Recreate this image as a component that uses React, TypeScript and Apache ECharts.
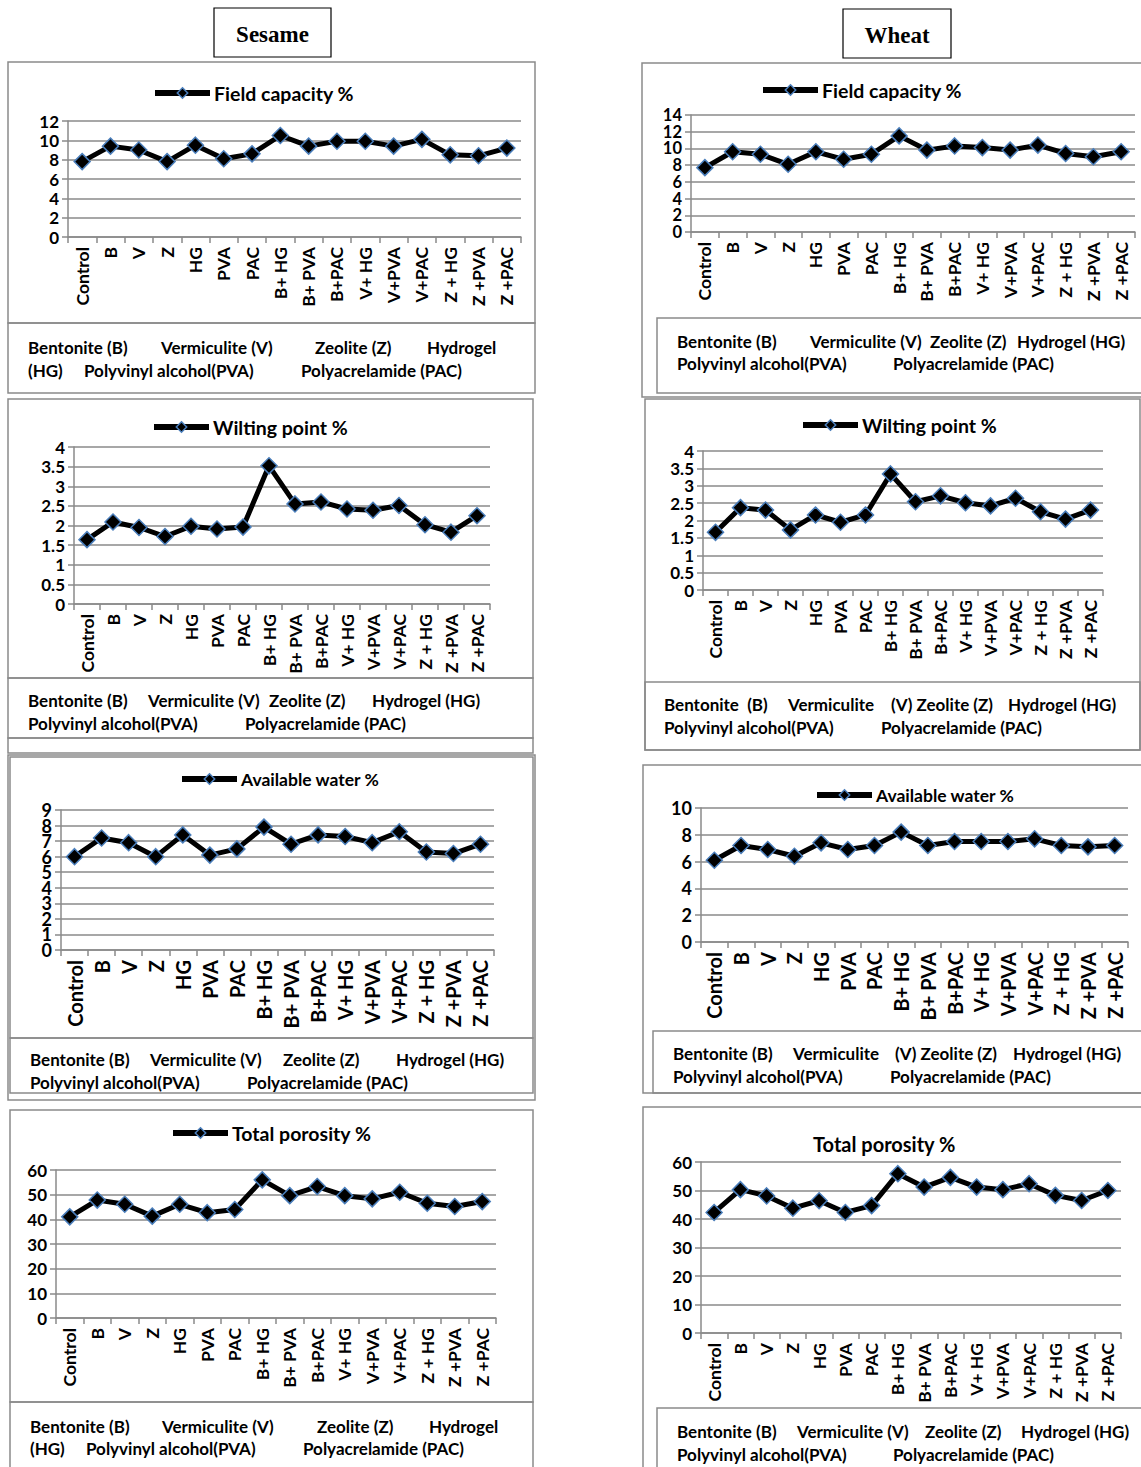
import React, { useEffect, useRef } from 'react';
import * as echarts from 'echarts';

// ---------------- data ----------------
const categories = ['Control', 'B', 'V', 'Z', 'HG', 'PVA', 'PAC', 'B+ HG', 'B+ PVA', 'B+PAC', 'V+ HG', 'V+PVA', 'V+PAC', 'Z + HG', 'Z +PVA', 'Z +PAC'];

const sesameFieldCapacity = [7.8, 9.4, 9.0, 7.8, 9.5, 8.1, 8.6, 10.5, 9.4, 9.9, 9.9, 9.4, 10.1, 8.5, 8.4, 9.2];
const sesameWiltingPoint = [1.64, 2.09, 1.95, 1.72, 1.98, 1.91, 1.96, 3.52, 2.55, 2.6, 2.42, 2.39, 2.51, 2.02, 1.83, 2.25];
const sesameAvailableWater = [6.0, 7.2, 6.9, 6.0, 7.4, 6.1, 6.5, 7.9, 6.8, 7.4, 7.3, 6.9, 7.6, 6.3, 6.2, 6.8];
const sesameTotalPorosity = [41.0, 47.8, 46.1, 41.3, 46.1, 42.7, 44.0, 56.0, 49.6, 53.3, 49.6, 48.3, 51.0, 46.5, 45.2, 47.2];

const wheatFieldCapacity = [7.7, 9.6, 9.3, 8.1, 9.6, 8.7, 9.3, 11.5, 9.8, 10.3, 10.1, 9.8, 10.4, 9.4, 9.0, 9.6];
const wheatWiltingPoint = [1.66, 2.37, 2.3, 1.73, 2.16, 1.95, 2.16, 3.34, 2.54, 2.71, 2.51, 2.42, 2.64, 2.25, 2.04, 2.3];
const wheatAvailableWater = [6.1, 7.2, 6.9, 6.4, 7.4, 6.9, 7.2, 8.2, 7.2, 7.5, 7.5, 7.5, 7.7, 7.2, 7.1, 7.2];
const wheatTotalPorosity = [42.3, 50.3, 48.1, 43.8, 46.4, 42.3, 44.7, 55.9, 51.2, 54.6, 51.2, 50.3, 52.4, 48.3, 46.5, 50.0];

const cropNames = ['Sesame', 'Wheat'];

// ---------------- layout / style ----------------
const FONT = 'Lato, "Liberation Sans", sans-serif';
const GRAY = '#8a8a8a';
const BLUE = '#4a7ebb';

type Note = [string, number, number];
type Panel = {
  name: string;
  values: number[];
  grid: [number, number, number, number];
  max: number;
  interval: number;
  yFont: number;
  denseY?: boolean;
  xFont: number;
  head: [number, number, number];
  icon: boolean;
  boxes: [number, number, number, number][];
  notes: Note[];
};

const panels: Panel[] = [
  {
    name: 'Field capacity %', values: sesameFieldCapacity, grid: [68, 121, 453, 116], max: 12, interval: 2,
    yFont: 17, xFont: 17.5, head: [152, 93, 19.5], icon: true,
    boxes: [[8, 62, 527, 261], [8, 323, 527, 70]],
    notes: [['Bentonite (B)', 28, 347], ['Vermiculite (V)', 161, 347], ['Zeolite (Z)', 315, 347], ['Hydrogel', 427, 347],
      ['(HG)', 28, 370], ['Polyvinyl alcohol(PVA)', 84, 370], ['Polyacrelamide (PAC)', 301, 370]],
  },
  {
    name: 'Wilting point %', values: sesameWiltingPoint, grid: [74, 447, 416, 157], max: 4, interval: 0.5,
    yFont: 17, xFont: 17.5, head: [151, 427, 19.5], icon: true,
    boxes: [[8, 399, 525, 279], [8, 678, 525, 60], [8, 738, 525, 15]],
    notes: [['Bentonite (B)', 28, 700], ['Vermiculite (V)', 148, 700], ['Zeolite (Z)', 269, 700], ['Hydrogel (HG)', 372, 700],
      ['Polyvinyl alcohol(PVA)', 28, 723], ['Polyacrelamide (PAC)', 245, 723]],
  },
  {
    name: 'Available water %', values: sesameAvailableWater, grid: [61, 810, 433, 140], max: 9, interval: 1,
    yFont: 18, denseY: true, xFont: 20, head: [179, 780, 17.5], icon: true,
    boxes: [[10, 757, 523, 281], [10, 1038, 523, 55], [8, 755, 527, 345]],
    notes: [['Bentonite (B)', 30, 1059], ['Vermiculite (V)', 150, 1059], ['Zeolite (Z)', 283, 1059], ['Hydrogel (HG)', 396, 1059],
      ['Polyvinyl alcohol(PVA)', 30, 1082], ['Polyacrelamide (PAC)', 247, 1082]],
  },
  {
    name: 'Total porosity %', values: sesameTotalPorosity, grid: [56, 1170, 440, 148], max: 60, interval: 10,
    yFont: 17, xFont: 17.5, head: [170, 1133, 19.5], icon: true,
    boxes: [[10, 1110, 523, 292], [10, 1402, 523, 80]],
    notes: [['Bentonite (B)', 30, 1426], ['Vermiculite (V)', 162, 1426], ['Zeolite (Z)', 317, 1426], ['Hydrogel', 429, 1426],
      ['(HG)', 30, 1448], ['Polyvinyl alcohol(PVA)', 86, 1448], ['Polyacrelamide (PAC)', 303, 1448]],
  },
  {
    name: 'Field capacity %', values: wheatFieldCapacity, grid: [691, 115, 444, 117], max: 14, interval: 2,
    yFont: 16.5, denseY: true, xFont: 17.5, head: [760, 90, 19.5], icon: true,
    boxes: [[642, 63, 520, 334], [657, 318, 500, 75]],
    notes: [['Bentonite (B)', 677, 341], ['Vermiculite (V)', 810, 341], ['Zeolite (Z)', 930, 341], ['Hydrogel (HG)', 1017, 341],
      ['Polyvinyl alcohol(PVA)', 677, 363], ['Polyacrelamide (PAC)', 893, 363]],
  },
  {
    name: 'Wilting point %', values: wheatWiltingPoint, grid: [703, 451, 400, 139], max: 4, interval: 0.5,
    yFont: 17, xFont: 17.5, head: [800, 425, 19.5], icon: true,
    boxes: [[645, 399, 495, 351], [645, 682, 495, 68]],
    notes: [['Bentonite  (B)', 664, 704], ['Vermiculite', 788, 704], ['(V) Zeolite (Z)', 891, 704], ['Hydrogel (HG)', 1008, 704],
      ['Polyvinyl alcohol(PVA)', 664, 727], ['Polyacrelamide (PAC)', 881, 727]],
  },
  {
    name: 'Available water %', values: wheatAvailableWater, grid: [701, 808, 427, 134], max: 10, interval: 2,
    yFont: 18, xFont: 20, head: [814, 796, 17.5], icon: true,
    boxes: [[643, 765, 520, 328], [653, 1031, 510, 62]],
    notes: [['Bentonite (B)', 673, 1053], ['Vermiculite', 793, 1053], ['(V) Zeolite (Z)', 895, 1053], ['Hydrogel (HG)', 1013, 1053],
      ['Polyvinyl alcohol(PVA)', 673, 1076], ['Polyacrelamide (PAC)', 890, 1076]],
  },
  {
    name: 'Total porosity %', values: wheatTotalPorosity, grid: [701, 1162, 420, 171], max: 60, interval: 10,
    yFont: 17, xFont: 17.5, head: [813, 1145, 20], icon: false,
    boxes: [[643, 1107, 520, 400], [657, 1408, 500, 80]],
    notes: [['Bentonite (B)', 677, 1431], ['Vermiculite (V)', 797, 1431], ['Zeolite (Z)', 925, 1431], ['Hydrogel (HG)', 1021, 1431],
      ['Polyvinyl alcohol(PVA)', 677, 1454], ['Polyacrelamide (PAC)', 893, 1454]],
  },
];

const cropBoxes: [number, number, number, number][] = [[214, 8, 117, 49], [843, 9, 108, 49]];

function baseGraphics() {
  const graphics: any[] = [];
  let n = 0;
  panels.forEach((p) => {
    p.boxes.forEach((b) => {
      graphics.push({
        id: 'g' + n++, type: 'rect', silent: true, z: 0,
        shape: { x: b[0], y: b[1], width: b[2], height: b[3] },
        style: { fill: 'none', stroke: GRAY, lineWidth: 1.5 },
      });
    });
    p.notes.forEach((t) => {
      graphics.push({
        id: 'g' + n++, type: 'text', silent: true, x: t[1], y: t[2],
        style: { text: t[0], fill: '#000', fontFamily: FONT, fontWeight: 'bold', fontSize: 17, align: 'left', verticalAlign: 'middle' },
      });
    });
  });
  cropBoxes.forEach((b, k) => {
    graphics.push({
      id: 'g' + n++, type: 'rect', silent: true,
      shape: { x: b[0], y: b[1], width: b[2], height: b[3] },
      style: { fill: 'none', stroke: '#000', lineWidth: 1.2 },
    });
    graphics.push({
      id: 'g' + n++, type: 'text', silent: true, x: b[0] + b[2] / 2, y: b[1] + b[3] / 2 + 2,
      style: { text: cropNames[k], fill: '#000', fontFamily: '"Liberation Serif", "Times New Roman", serif', fontWeight: 'bold', fontSize: 23, align: 'center', verticalAlign: 'middle' },
    });
  });
  return graphics;
}

function buildOption() {
  const grids: any[] = [];
  const xAxes: any[] = [];
  const yAxes: any[] = [];
  const series: any[] = [];
  const legends: any[] = [];
  const titles: any[] = [];

  panels.forEach((p, i) => {
    grids.push({ left: p.grid[0], top: p.grid[1], width: p.grid[2], height: p.grid[3] });
    xAxes.push({
      type: 'category', gridIndex: i, data: categories, boundaryGap: true,
      axisLine: { show: true, lineStyle: { color: GRAY, width: 1.5 } },
      axisTick: { show: true, length: 6, lineStyle: { color: GRAY, width: 1.5 } },
      axisLabel: { rotate: 90, interval: 0, margin: 10, color: '#000', fontWeight: 'bold', fontSize: p.xFont, fontFamily: FONT },
      splitLine: { show: false },
    });
    yAxes.push({
      type: 'value', gridIndex: i, min: 0, max: p.max, interval: p.interval,
      axisLine: { show: true, lineStyle: { color: GRAY, width: 1.5 } },
      axisTick: { show: true, length: 6, lineStyle: { color: GRAY, width: 1.5 } },
      splitLine: { show: true, lineStyle: { color: GRAY, width: 1.5 } },
      axisLabel: {
        show: !p.denseY, margin: 9, showMinLabel: true, showMaxLabel: true,
        color: '#000', fontWeight: 'bold', fontSize: p.yFont, fontFamily: FONT,
      },
    });
    series.push({
      id: 's' + i, name: p.name, type: 'line', xAxisIndex: i, yAxisIndex: i, data: p.values,
      symbol: 'diamond', symbolSize: 16, z: 3,
      lineStyle: { color: '#000', width: 5 },
      itemStyle: { color: '#000', borderColor: BLUE, borderWidth: 1.5 },
    });
    if (p.icon) {
      legends.push({
        data: [p.name], left: p.head[0], top: p.head[1] - 10, padding: 0,
        itemWidth: 55, itemHeight: 13, selectedMode: false,
        lineStyle: { width: 6, color: '#000' },
        itemStyle: { color: '#000', borderColor: BLUE, borderWidth: 1.5 },
        textStyle: { color: '#000', fontWeight: 'bold', fontSize: p.head[2], fontFamily: FONT, padding: [0, 0, 0, -1] },
      });
    } else {
      titles.push({
        text: p.name, left: p.head[0], top: p.head[1] - 11, padding: 0,
        textStyle: { color: '#000', fontWeight: 'bold', fontSize: p.head[2], fontFamily: FONT },
      });
    }
  });

  return {
    animation: false,
    backgroundColor: '#fff',
    grid: grids,
    xAxis: xAxes,
    yAxis: yAxes,
    series,
    legend: legends,
    title: titles,
    graphic: baseGraphics(),
  };
}

// Tick labels of the densely packed value axes, placed through the axis scale
// (ECharts would otherwise drop the labels that touch each other).
function denseAxisLabels(chart: echarts.ECharts) {
  const out: any[] = [];
  panels.forEach((p, i) => {
    if (!p.denseY) return;
    for (let v = 0; v <= p.max + 1e-9; v += p.interval) {
      const py = chart.convertToPixel({ yAxisIndex: i } as any, v) as unknown as number;
      out.push({
        id: 'yl' + i + '_' + v, type: 'text', silent: true, x: p.grid[0] - 9, y: py,
        style: { text: String(v), fill: '#000', fontFamily: FONT, fontWeight: 'bold', fontSize: p.yFont, align: 'right', verticalAlign: 'middle' },
      });
    }
  });
  return out;
}

export default function App() {
  const ref = useRef<HTMLDivElement>(null);
  useEffect(() => {
    if (!ref.current) return;
    const chart = echarts.init(ref.current, undefined, { renderer: 'svg' });
    chart.setOption(buildOption() as any);
    chart.setOption({ graphic: [...baseGraphics(), ...denseAxisLabels(chart)] } as any);
    return () => chart.dispose();
  }, []);
  return (
    <div
      ref={ref}
      style={{ position: 'absolute', left: 0, top: 0, width: 1141, height: 1467, background: '#fff' }}
    />
  );
}
